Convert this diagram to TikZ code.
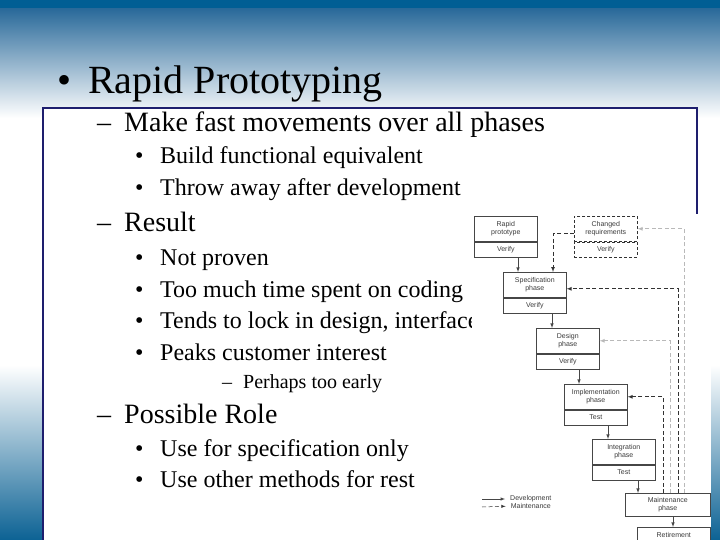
\documentclass[tikz,border=0pt]{standalone}
\usepackage{fontspec}
\setmainfont{Liberation Serif}
\newfontfamily\figfont{Liberation Sans}
\usetikzlibrary{arrows,positioning}
\definecolor{topbar}{RGB}{0,94,148}
\definecolor{slideblue}{RGB}{42,106,154}
\definecolor{botblue}{RGB}{12,98,148}
\definecolor{framenavy}{RGB}{30,30,110}
\definecolor{boxline}{RGB}{70,70,70}
\definecolor{figtext}{RGB}{60,60,60}
\definecolor{maintgray}{RGB}{185,185,185}
\definecolor{maintdark}{RGB}{50,50,50}

\begin{document}
\begin{tikzpicture}[x=1pt,y=-1pt,>=latex,
  lvlone/.style={anchor=base west,inner sep=0pt,font=\fontsize{40}{44}\selectfont},
  lvltwo/.style={anchor=base west,inner sep=0pt,font=\fontsize{28}{32}\selectfont},
  lvlthree/.style={anchor=base west,inner sep=0pt,font=\fontsize{24}{28}\selectfont},
  lvlfour/.style={anchor=base west,inner sep=0pt,font=\fontsize{20}{24}\selectfont},
  phase/.style={draw=boxline,line width=.6pt,fill=white,inner sep=0pt,minimum width=63pt,minimum height=25pt,align=center,text=figtext,font=\figfont\fontsize{7}{8}\selectfont},
  check/.style={phase,minimum height=15pt},
  redo/.style={draw=maintdark,dash pattern=on 3pt off 2pt},
  dev/.style={->,draw=boxline,line width=.6pt},
  upkeep/.style={->,dash pattern=on 4pt off 2.5pt,line width=.7pt},
  legend/.style={anchor=west,inner sep=0pt,text=figtext,font=\figfont\fontsize{7}{8}\selectfont}]
\useasboundingbox (0,0) rectangle (720,540);
\fill[white] (0,0) rectangle (720,540);
\fill[topbar] (0,0) rectangle (720,9);
\shade[top color=slideblue,bottom color=white] (0,9) rectangle (720,118);
\shade[top color=white,bottom color=botblue] (0,365) rectangle (720,540);
\draw[framenavy,line width=1.2pt,fill=white] (43,108) rectangle (697,560);

% slide text
\node[lvlone] (titlebul) at (57,94) {\textbullet};
\node[lvlone] (title) at (88,94) {Rapid Prototyping};
\node[lvltwo] (fastdash) at (97,132) {--};
\node[lvltwo] (fast) at (124,132) {Make fast movements over all phases};
\node[lvlthree] (buildbul) at (135,164) {\textbullet};
\node[lvlthree] (build) at (160,164) {Build functional equivalent};
\node[lvlthree] (throwbul) at (135,196) {\textbullet};
\node[lvlthree] (throw) at (160,196) {Throw away after development};
\node[lvltwo] (resultdash) at (97,232) {--};
\node[lvltwo] (result) at (124,232) {Result};
\node[lvlthree] (provenbul) at (135,265) {\textbullet};
\node[lvlthree] (proven) at (160,265) {Not proven};
\node[lvlthree] (codingbul) at (135,297) {\textbullet};
\node[lvlthree] (coding) at (160,297) {Too much time spent on coding};
\node[lvlthree] (lockbul) at (135,328) {\textbullet};
\node[lvlthree] (lock) at (160,328) {Tends to lock in design, interface};
\node[lvlthree] (peaksbul) at (135,360) {\textbullet};
\node[lvlthree] (peaks) at (160,360) {Peaks customer interest};
\node[lvlfour] (earlydash) at (222,388) {--};
\node[lvlfour] (early) at (243,388) {Perhaps too early};
\node[lvltwo] (roledash) at (97,423) {--};
\node[lvltwo] (role) at (124,423) {Possible Role};
\node[lvlthree] (specbul) at (135,456) {\textbullet};
\node[lvlthree] (speconly) at (160,456) {Use for specification only};
\node[lvlthree] (restbul) at (135,487) {\textbullet};
\node[lvlthree] (rest) at (160,487) {Use other methods for rest};

% life-cycle figure
\fill[white] (472,214) rectangle (711,545);
\node[phase,anchor=north west] (proto) at (474,216) {Rapid\\prototype};
\node[check,below=0pt of proto] (protov) {Verify};
\node[phase,redo,anchor=north west] (changed) at (574,216) {Changed\\requirements};
\node[check,redo,below=0pt of changed] (changedv) {Verify};
\node[phase,anchor=north west] (spec) at (503,272) {Specification\\phase};
\node[check,below=0pt of spec] (specv) {Verify};
\node[phase,anchor=north west] (design) at (536,328) {Design\\phase};
\node[check,below=0pt of design] (designv) {Verify};
\node[phase,anchor=north west] (impl) at (564,384) {Implementation\\phase};
\node[check,below=0pt of impl] (implv) {Test};
\node[phase,anchor=north west] (integ) at (592,439) {Integration\\phase};
\node[check,below=0pt of integ] (integv) {Test};
\node[phase,anchor=north west,minimum width=85pt,minimum height=23pt] (maint) at (625,493) {Maintenance\\phase};
\node[check,anchor=north west,minimum width=73pt] (retire) at (637,527) {Retirement};

\draw[dev] ([xshift=44pt]protov.south west) -- ([xshift=15pt]spec.north west);
\draw[dev] ([xshift=49pt]specv.south west) -- ([xshift=16pt]design.north west);
\draw[dev] ([xshift=43pt]designv.south west) -- ([xshift=15pt]impl.north west);
\draw[dev] ([xshift=44pt]implv.south west) -- ([xshift=16pt]integ.north west);
\draw[dev] ([xshift=46pt]integv.south west) -- ([xshift=13pt]maint.north west);
\draw[dev] ([xshift=48pt]maint.south west) -- ([xshift=36pt]retire.north west);

\coordinate (up1) at ([xshift=59pt]maint.north west);
\coordinate (up2) at ([xshift=53pt]maint.north west);
\coordinate (up3) at ([xshift=45pt]maint.north west);
\coordinate (up4) at ([xshift=38pt]maint.north west);
\draw[upkeep,maintgray] (up1) |- (changed.east);
\draw[upkeep,maintdark] (up2) |- ([yshift=-4pt]spec.east);
\draw[upkeep,maintgray] (up3) |- (design.east);
\draw[upkeep,maintdark] (up4) |- (impl.east);
\draw[upkeep,maintdark] ([yshift=-5pt]changed.west) -| ([xshift=50pt]spec.north west);

\node[legend] (ldev) at (510,499) {Development};
\node[legend,below=1pt of ldev] (lmaint) {Maintenance};
\coordinate (ldevtail) at (482,499);
\coordinate (lmainttail) at (482,507);
\draw[dev,line width=.5pt] (ldevtail) -- ([xshift=-5pt]ldev.west);
\draw[upkeep,maintdark,line width=.5pt] (lmainttail) -- ([xshift=-5pt]lmaint.west);
\end{tikzpicture}
\end{document}
